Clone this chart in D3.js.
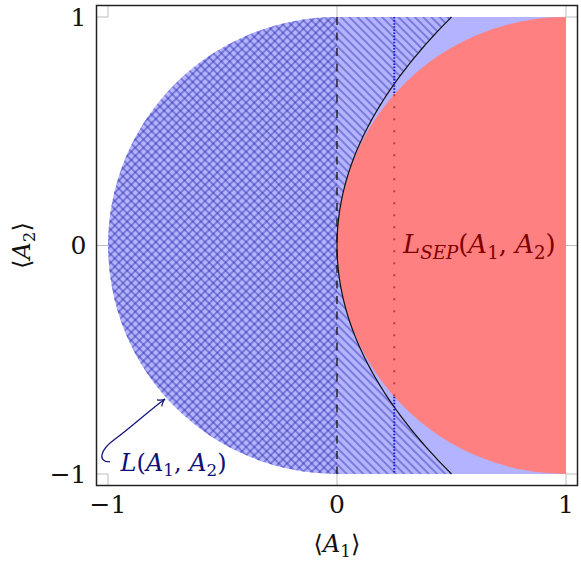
<!DOCTYPE html>
<meta charset="utf-8">
<style>

body {
  margin: 0;
  background: #fff;
}

svg text {
  font-family: "DejaVu Serif", "Liberation Serif", serif;
  font-size: 25px;
  fill: #111;
}

.frame {
  fill: none;
  stroke: #222;
  stroke-width: 1.5px;
}

.tick {
  stroke: #bdbdbd;
  stroke-width: 1px;
}

.hatch line {
  stroke: #2a2aa8;
  stroke-opacity: .45;
  stroke-width: 1.8px;
}

</style>
<body>
<script src="https://cdnjs.cloudflare.com/ajax/libs/d3/7.8.5/d3.min.js"></script>
<script>

var width = 581,
    height = 568;

// axis ticks
var xTicks = [-1, 0, 1],
    yTicks = [-1, 0, 1];

// the two disks (unit radius) and the boundary curve x = k * y^2
var unitCenter = [0, 0],
    sepCenter = [1, 0],
    diskRadius = 1,
    parabolaK = 0.5;

// vertical guides
var dashedX = 0,
    dottedX = 0.25;

// annotations (data coords)
var sepLabel = {x: 0.288, y: -0.035},
    lLabel = {x: -0.945, y: -0.988},
    arrowPts = [[-0.991, -0.947], [-1.048, -0.947], [-1.035, -0.895], [-0.969, -0.847],
                [-0.817, -0.72], [-0.751, -0.672]];

var x = d3.scaleLinear().domain([-1, 1]).range([108, 566]),
    y = d3.scaleLinear().domain([-1, 1]).range([474, 17]);

var pad = 11.5;

var svg = d3.select("body").append("svg")
    .attr("width", width)
    .attr("height", height);

var defs = svg.append("defs");

// hatch patterns
function hatch(id, angle) {
  var p = defs.append("pattern")
      .attr("id", id)
      .attr("class", "hatch")
      .attr("patternUnits", "userSpaceOnUse")
      .attr("width", 5.8)
      .attr("height", 5.8)
      .attr("patternTransform", "rotate(" + angle + ")");
  p.append("line").attr("x1", 2.9).attr("x2", 2.9).attr("y1", -1).attr("y2", 7);
}
hatch("nwlines", -45);
hatch("nelines", 45);

var rx = x(1) - x(0),
    ry = y(0) - y(1);

// half of the unit disk left of x = 0
function leftHalfDisk() {
  return "M" + x(unitCenter[0]) + "," + y(diskRadius) +
    "A" + rx + "," + ry + " 0 0 0 " + x(unitCenter[0]) + "," + y(-diskRadius);
}

var parabola = d3.range(1, -1.001, -0.02).map(function(t) { return [parabolaK * t * t, t]; });
var line = d3.line().x(function(d) { return x(d[0]); }).y(function(d) { return y(d[1]); });

// light blue region
svg.append("path")
    .attr("d", leftHalfDisk() + "L" + x(1) + "," + y(-1) + "L" + x(1) + "," + y(1) + "Z")
    .attr("fill", "#b3b3ff");

// north west lines: left half disk + area left of the parabola
svg.append("path")
    .attr("d", line(parabola) + "L" + x(0) + "," + y(-1) +
      "A" + rx + "," + ry + " 0 0 1 " + x(0) + "," + y(1) + "Z")
    .attr("fill", "url(#nwlines)");

// north east lines on the left half disk (makes the crosshatch)
svg.append("path")
    .attr("d", leftHalfDisk() + "Z")
    .attr("fill", "url(#nelines)");

// separable region: disk around (1, 0), clipped at x = 1
svg.append("path")
    .attr("d", "M" + x(sepCenter[0]) + "," + y(diskRadius) +
      "A" + rx + "," + ry + " 0 0 0 " + x(sepCenter[0]) + "," + y(-diskRadius) + "Z")
    .attr("fill", "#ff8080");

// parabola
svg.append("path")
    .attr("d", line(parabola))
    .attr("fill", "none")
    .attr("stroke", "#111")
    .attr("stroke-width", 1.2);

// dashed guide
svg.append("line")
    .attr("x1", x(dashedX)).attr("x2", x(dashedX))
    .attr("y1", y(1)).attr("y2", y(-1))
    .attr("stroke", "#111")
    .attr("stroke-width", 1.3)
    .attr("stroke-dasharray", "8,7.5");

// dotted guide: blue outside the red disk, sparse red inside
var yCut = Math.sqrt(diskRadius * diskRadius - Math.pow(dottedX - sepCenter[0], 2));

[[1, yCut], [-yCut, -1]].forEach(function(seg) {
  svg.append("line")
      .attr("x1", x(dottedX)).attr("x2", x(dottedX))
      .attr("y1", y(seg[0])).attr("y2", y(seg[1]))
      .attr("stroke", "#1515e0")
      .attr("stroke-width", 2)
      .attr("stroke-dasharray", "1.5,1.6");
});

svg.append("line")
    .attr("x1", x(dottedX)).attr("x2", x(dottedX))
    .attr("y1", y(yCut)).attr("y2", y(-yCut))
    .attr("stroke", "#c53a3a")
    .attr("stroke-width", 2)
    .attr("stroke-dasharray", "2,10");

// ticks
var x0 = x(-1) - pad, x1 = x(1) + pad,
    y0 = y(1) - pad, y1 = y(-1) + pad;

xTicks.forEach(function(t) {
  svg.append("line").attr("class", "tick")
      .attr("x1", x(t)).attr("x2", x(t)).attr("y1", y0).attr("y2", y(1));
  svg.append("line").attr("class", "tick")
      .attr("x1", x(t)).attr("x2", x(t)).attr("y1", y(-1)).attr("y2", y1);
});
yTicks.forEach(function(t) {
  svg.append("line").attr("class", "tick")
      .attr("x1", x0).attr("x2", x(-1)).attr("y1", y(t)).attr("y2", y(t));
  svg.append("line").attr("class", "tick")
      .attr("x1", x(1)).attr("x2", x1).attr("y1", y(t)).attr("y2", y(t));
});

svg.append("rect")
    .attr("class", "frame")
    .attr("x", x0).attr("y", y0)
    .attr("width", x1 - x0).attr("height", y1 - y0);

function fmt(t) { return t < 0 ? "\u2212" + (-t) : "" + t; }

svg.selectAll(".xlabel")
  .data(xTicks)
  .enter().append("text")
    .attr("x", function(d) { return x(d); })
    .attr("y", y1 + 27)
    .attr("text-anchor", "middle")
    .text(fmt);

svg.selectAll(".ylabel")
  .data(yTicks)
  .enter().append("text")
    .attr("x", x0 - 10)
    .attr("y", function(d) { return y(d) + 8.5; })
    .attr("text-anchor", "end")
    .text(fmt);

// math-ish text: parts = [text, style], style "i" italic, "s" subscript
function mathText(sel, parts, size) {
  sel.style("font-size", size + "px");
  var prev = false;
  parts.forEach(function(p) {
    var ts = sel.append("tspan").text(p[0]);
    var isSub = p[1].indexOf("s") >= 0;
    if (p[1].indexOf("i") >= 0) ts.style("font-style", "italic");
    if (isSub) ts.style("font-size", (size * 0.7) + "px");
    if (isSub && !prev) ts.attr("dy", size * 0.2);
    if (!isSub && prev) ts.attr("dy", -size * 0.2);
    prev = isSub;
  });
}

// axis labels
var xl = svg.append("text")
    .attr("x", x(0))
    .attr("y", 552)
    .attr("text-anchor", "middle");
mathText(xl, [["\u27E8", ""], ["A", "i"], ["1", "s"], ["\u27E9", ""]], 24);

var yl = svg.append("text")
    .attr("transform", "translate(30," + y(0) + ")rotate(-90)")
    .attr("text-anchor", "middle");
mathText(yl, [["\u27E8", ""], ["A", "i"], ["2", "s"], ["\u27E9", ""]], 24);

// region labels
var st = svg.append("text")
    .attr("x", x(sepLabel.x))
    .attr("y", y(sepLabel.y))
    .style("fill", "#800000");
mathText(st, [["L", "i"], ["SEP", "is"], ["(", ""], ["A", "i"], ["1", "s"], [", ", ""],
  ["A", "i"], ["2", "s"], [")", ""]], 26);

var lt = svg.append("text")
    .attr("x", x(lLabel.x))
    .attr("y", y(lLabel.y))
    .style("fill", "#10107a");
mathText(lt, [["L", "i"], ["(", ""], ["A", "i"], ["1", "s"], [", ", ""],
  ["A", "i"], ["2", "s"], [")", ""]], 24);

// arrow
var p = arrowPts.map(function(d) { return [x(d[0]), y(d[1])]; });
svg.append("path")
    .attr("d", "M" + p[0] + "C" + p[1] + " " + p[2] + " " + p[3] + "S" + p[4] + " " + p[5])
    .attr("fill", "none")
    .attr("stroke", "#10107a")
    .attr("stroke-width", 1.2);

var ang = Math.atan2(p[5][1] - p[4][1], p[5][0] - p[4][0]);
var mid = [p[5][0] - 2.5 * Math.cos(ang), p[5][1] - 2.5 * Math.sin(ang)];
var head = [[-7, -4], [0, 0], [-7, 4]].map(function(d) {
  return [p[5][0] + d[0] * Math.cos(ang) - d[1] * Math.sin(ang),
          p[5][1] + d[0] * Math.sin(ang) + d[1] * Math.cos(ang)];
});
svg.append("path")
    .attr("d", "M" + head[0] + "Q" + mid + " " + head[1] + "Q" + mid + " " + head[2])
    .attr("fill", "none")
    .attr("stroke", "#10107a")
    .attr("stroke-width", 1.2);

</script>
